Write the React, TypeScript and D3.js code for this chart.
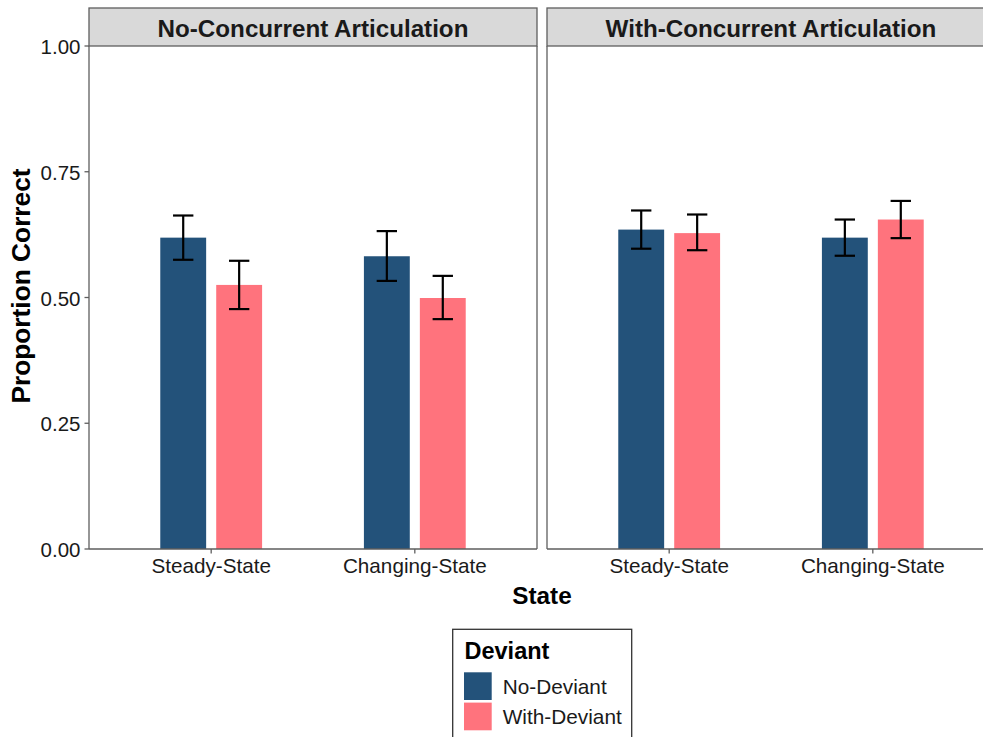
import React from "react";
import * as d3 from "d3";

const panels = ["No-Concurrent Articulation", "With-Concurrent Articulation"];
const states = ["Steady-State", "Changing-State"];
const deviants = ["No-Deviant", "With-Deviant"];
const colors = ["#23527A", "#FF737D"];
const yTicks = [0, 0.25, 0.5, 0.75, 1.0];

// values indexed [panel][state][deviant]
const meanNoConc = [[0.619, 0.525], [0.582, 0.499]];
const lowNoConc = [[0.575, 0.477], [0.533, 0.457]];
const highNoConc = [[0.663, 0.573], [0.632, 0.543]];
const meanWithConc = [[0.635, 0.628], [0.619, 0.655]];
const lowWithConc = [[0.597, 0.594], [0.583, 0.618]];
const highWithConc = [[0.673, 0.665], [0.655, 0.692]];

const means = [meanNoConc, meanWithConc];
const lows = [lowNoConc, lowWithConc];
const highs = [highNoConc, highWithConc];

const W = 983;
const H = 737;
const panelLeft = [89, 547];
const panelW = 448;
const plotTop = 46;
const plotBottom = 549;
const stripTop = 8;
const axisGray = "#5e5e5e";
const font = "'Liberation Sans', Arial, Helvetica, sans-serif";

export default function App() {
  const y = d3.scaleLinear().domain([0, 1]).range([plotBottom, plotTop]);
  const x = d3.scalePoint<string>().domain(states).range([0, panelW]).padding(0.6);
  const step = x.step();
  const dodge = d3
    .scaleBand<string>()
    .domain(deviants)
    .range([-0.25 * step, 0.25 * step])
    .paddingInner(0.18);
  const capW = 0.1 * step;

  return (
    <svg
      width={W}
      height={H}
      style={{ position: "absolute", left: 0, top: 0, background: "#fff" }}
      fontFamily={font}
    >
      <rect x={0} y={0} width={W} height={H} fill="#fff" />
      {panels.map((p, pi) => {
        const px = panelLeft[pi];
        return (
          <g key={p} transform={`translate(${px},0)`}>
            <rect
              x={0}
              y={stripTop}
              width={panelW}
              height={plotTop - stripTop}
              fill="#d9d9d9"
              stroke={axisGray}
              strokeWidth={1.3}
            />
            <text
              x={panelW / 2}
              y={36.5}
              textAnchor="middle"
              fontWeight="bold"
              fontSize={24.2}
              fill="#1a1a1a"
            >
              {p}
            </text>
            {states.map((s, si) =>
              deviants.map((d, di) => {
                const cx = (x(s) as number) + (dodge(d) as number);
                const bw = dodge.bandwidth();
                const m = means[pi][si][di];
                return (
                  <rect
                    key={s + d}
                    x={cx}
                    y={y(m)}
                    width={bw}
                    height={y(0) - y(m)}
                    fill={colors[di]}
                  />
                );
              })
            )}
            {states.map((s, si) =>
              deviants.map((d, di) => {
                const c = (x(s) as number) + (dodge(d) as number) + dodge.bandwidth() / 2;
                const lo = y(lows[pi][si][di]);
                const hi = y(highs[pi][si][di]);
                return (
                  <g key={"e" + s + d} stroke="#000" strokeWidth={2.2}>
                    <line x1={c} x2={c} y1={lo} y2={hi} />
                    <line x1={c - capW / 2} x2={c + capW / 2} y1={lo} y2={lo} />
                    <line x1={c - capW / 2} x2={c + capW / 2} y1={hi} y2={hi} />
                  </g>
                );
              })
            )}
            <line x1={0} x2={0} y1={plotTop} y2={plotBottom} stroke={axisGray} strokeWidth={1.3} />
            <line x1={panelW} x2={panelW} y1={plotTop} y2={plotBottom} stroke={axisGray} strokeWidth={1.3} />
            <line x1={0} x2={panelW} y1={plotBottom} y2={plotBottom} stroke={axisGray} strokeWidth={1.3} />
            {states.map((s) => (
              <g key={"t" + s}>
                <line
                  x1={x(s) as number}
                  x2={x(s) as number}
                  y1={plotBottom}
                  y2={plotBottom + 4.5}
                  stroke={axisGray}
                  strokeWidth={1.3}
                />
                <text
                  x={x(s) as number}
                  y={573}
                  textAnchor="middle"
                  fontSize={20.7}
                  fill="#1a1a1a"
                >
                  {s}
                </text>
              </g>
            ))}
          </g>
        );
      })}
      {yTicks.map((t) => (
        <g key={"y" + t}>
          <line
            x1={panelLeft[0] - 4.5}
            x2={panelLeft[0]}
            y1={y(t)}
            y2={y(t)}
            stroke={axisGray}
            strokeWidth={1.3}
          />
          <text
            x={80.5}
            y={y(t) + 8}
            textAnchor="end"
            fontSize={20.5}
            fill="#1a1a1a"
          >
            {d3.format(".2f")(t)}
          </text>
        </g>
      ))}
      <text
        transform={`translate(30,286) rotate(-90)`}
        textAnchor="middle"
        fontWeight="bold"
        fontSize={26.3}
        fill="#000"
      >
        Proportion Correct
      </text>
      <text
        x={(panelLeft[0] + panelLeft[1] + panelW) / 2}
        y={603.5}
        textAnchor="middle"
        fontWeight="bold"
        fontSize={24.3}
        fill="#000"
      >
        State
      </text>
      <g>
        <rect x={452.7} y={629.3} width={179} height={120} fill="#fff" stroke="#333" strokeWidth={1.3} />
        <text x={464.5} y={658.5} fontWeight="bold" fontSize={23.5} fill="#000">
          Deviant
        </text>
        {deviants.map((d, i) => (
          <g key={"l" + d}>
            <rect x={464} y={672.3 + i * 30.3} width={27.7} height={27.7} fill={colors[i]} />
            <text x={502.7} y={694 + i * 30.3} fontSize={20.8} fill="#1a1a1a">
              {d}
            </text>
          </g>
        ))}
      </g>
    </svg>
  );
}
